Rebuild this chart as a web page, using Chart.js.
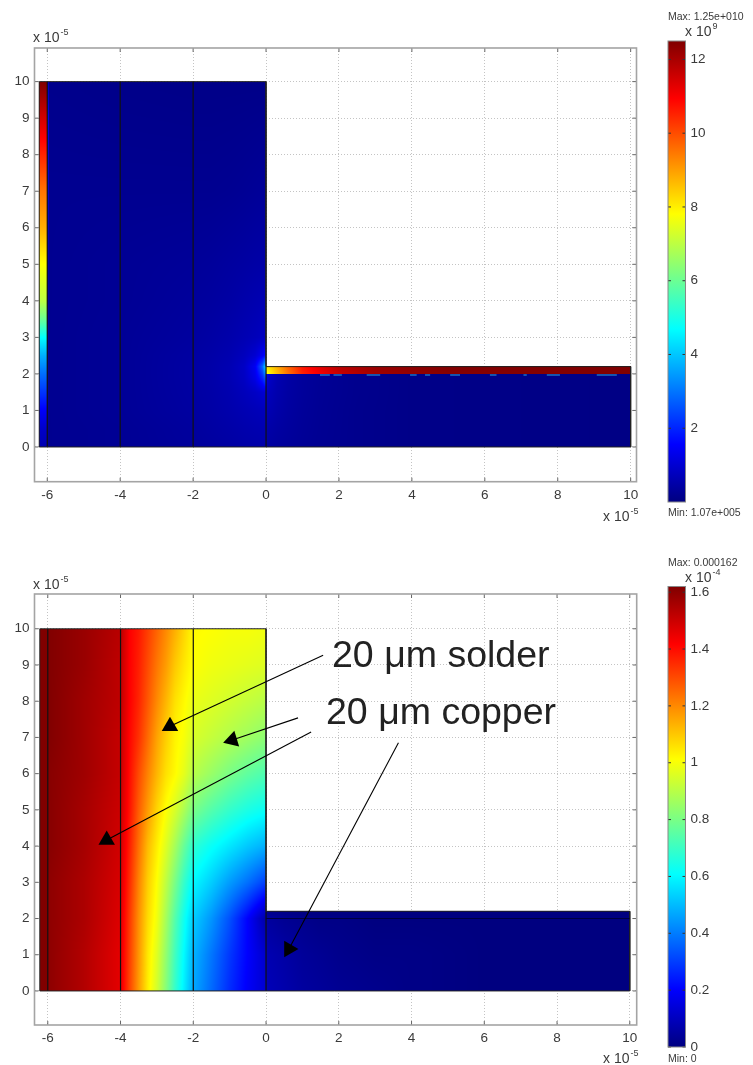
<!DOCTYPE html>
<html>
<head>
<meta charset="utf-8">
<title>solder and copper fields</title>
<script src="https://cdn.jsdelivr.net/npm/chart.js@4"></script>
<style>
  html, body { margin: 0; padding: 0; background: #fff; }
  #page { position: relative; width: 753px; height: 1065px; overflow: hidden; filter: blur(0.45px);
          font-family: "Liberation Sans", sans-serif; color: #3a3a3a; }
  #page canvas { position: absolute; }
  .lab { position: absolute; white-space: nowrap; line-height: 1; font-size: 14px; }
  .lab sup { font-size: 9px; line-height: 0; position: relative; top: -1px; vertical-align: super; margin-left: 1px; }
  .small { font-size: 10.5px; }
  .note { font-size: 37.5px; color: #222; }
</style>
</head>
<body>
<div id="page">
  <canvas id="topPlot" style="left:0;top:0"></canvas>
  <canvas id="topBar" style="left:660px;top:0"></canvas>
  <canvas id="lowPlot" style="left:0;top:540px"></canvas>
  <canvas id="lowBar" style="left:660px;top:540px"></canvas>

  <span class="lab" style="left:33px;top:30px">x 10<sup>-5</sup></span>
  <span class="lab" style="left:603px;top:509px">x 10<sup>-5</sup></span>
  <span class="lab small" style="left:668px;top:11px">Max: 1.25e+010</span>
  <span class="lab" style="left:685px;top:24px">x 10<sup>9</sup></span>
  <span class="lab small" style="left:668px;top:507px">Min: 1.07e+005</span>

  <span class="lab" style="left:33px;top:577px">x 10<sup>-5</sup></span>
  <span class="lab" style="left:603px;top:1051px">x 10<sup>-5</sup></span>
  <span class="lab small" style="left:668px;top:557px">Max: 0.000162</span>
  <span class="lab" style="left:685px;top:570px">x 10<sup>-4</sup></span>
  <span class="lab small" style="left:668px;top:1053px">Min: 0</span>

  <span class="lab note" style="left:332px;top:636px">20 μm solder</span>
  <span class="lab note" style="left:326px;top:693px">20 μm copper</span>
</div>

<script>
// axis ticks, units of 1e-5
const xTicks = [-6, -4, -2, 0, 2, 4, 6, 8, 10];
const yTicks = [0, 1, 2, 3, 4, 5, 6, 7, 8, 9, 10];
const topBarTicks = [2, 4, 6, 8, 10, 12];
const lowBarTicks = [0, 0.2, 0.4, 0.6, 0.8, 1, 1.2, 1.4, 1.6];
const topBarMax = 12.5;   // x 1e9
const lowBarMax = 1.62;   // x 1e-4

// geometry lines
const outlineX = [-6.22, -6.22, 0, 0, 10, 10, -6.22];
const outlineY = [0, 10, 10, 2.2, 2.2, 0, 0];
const dividerX = [-6, -4, -2, 0];
const dividerTop = [10, 10, 10, 2.2];

// upper plot, field values x 1e9, rows go from low y to high y
const topBlockX = [-6, -4, -2, -1.5, -1, -0.6, -0.3, -0.1, 0];
const topBlockY = [0, 0.5, 1, 1.5, 1.9, 2.2, 2.5, 3, 4, 5, 7, 10];
const topBlockV = [
  [0.2, 0.25, 0.34, 0.38, 0.43, 0.48, 0.5, 0.52, 0.52],
  [0.2, 0.25, 0.36, 0.42, 0.48, 0.54, 0.58, 0.6, 0.62],
  [0.2, 0.27, 0.4, 0.46, 0.54, 0.62, 0.68, 0.72, 0.74],
  [0.2, 0.27, 0.42, 0.48, 0.58, 0.72, 0.85, 0.98, 1.05],
  [0.2, 0.27, 0.43, 0.5, 0.62, 0.82, 1.25, 2, 2.8],
  [0.2, 0.27, 0.43, 0.5, 0.62, 0.85, 1.4, 2.8, 4.5],
  [0.2, 0.27, 0.42, 0.48, 0.58, 0.75, 1, 1.4, 1.8],
  [0.2, 0.27, 0.38, 0.44, 0.52, 0.62, 0.7, 0.78, 0.82],
  [0.2, 0.25, 0.34, 0.38, 0.44, 0.52, 0.58, 0.62, 0.62],
  [0.2, 0.25, 0.3, 0.33, 0.38, 0.42, 0.46, 0.48, 0.48],
  [0.2, 0.2, 0.2, 0.2, 0.22, 0.25, 0.28, 0.3, 0.3],
  [0.15, 0.12, 0.1, 0.1, 0.1, 0.1, 0.1, 0.1, 0.1]
];

const topWallX = [-6.22, -6.02, -6, -5.94];
const topWallY = [0, 0.5, 1, 1.5, 2, 2.5, 3, 3.5, 4, 5, 6, 7, 8, 8.5, 9, 9.5, 10];
const topWallV = [
  [0.6, 0.6, 0.3, 0.2],
  [0.9, 0.9, 0.3, 0.2],
  [1.5, 1.5, 0.3, 0.2],
  [2.2, 2.2, 0.4, 0.2],
  [2.9, 2.9, 0.4, 0.2],
  [3.7, 3.7, 0.5, 0.2],
  [4.7, 4.7, 0.5, 0.2],
  [6, 6, 0.6, 0.2],
  [7, 7, 0.6, 0.2],
  [7.8, 7.8, 0.8, 0.2],
  [8.8, 8.8, 1.4, 0.2],
  [9.5, 9.5, 2, 0.2],
  [10.5, 10.5, 2.2, 0.2],
  [11, 11, 2.5, 0.2],
  [11.5, 11.5, 2.8, 0.2],
  [12, 12, 2, 0.2],
  [12.5, 12.5, 1.5, 0.2]
];

const topCopperX = [0, 0.1, 0.3, 0.6, 1, 1.5, 2.5, 4, 10];
const topCopperY = [0, 0.5, 1, 1.5, 2];
const topCopperV = [
  [0.42, 0.4, 0.36, 0.32, 0.27, 0.22, 0.16, 0.1, 0.06],
  [0.5, 0.48, 0.42, 0.36, 0.29, 0.23, 0.16, 0.1, 0.06],
  [0.65, 0.6, 0.5, 0.4, 0.31, 0.24, 0.16, 0.1, 0.06],
  [0.8, 0.7, 0.56, 0.43, 0.33, 0.25, 0.17, 0.1, 0.06],
  [1.3, 0.9, 0.62, 0.46, 0.34, 0.26, 0.17, 0.1, 0.06]
];

const topSolderX = [0, 0.3, 0.6, 1, 1.5, 2, 3, 5, 10];
const topSolderY = [2, 2.22];
const topSolderV = [
  [7.6, 8.6, 9.5, 10.5, 11.1, 11.6, 12.1, 12.4, 12.5],
  [8, 8.8, 9.7, 10.7, 11.3, 11.8, 12.2, 12.5, 12.5]
];

// cyan flecks under the solder strip, start and end of each one
const fleckStart = [1.48, 1.85, 2.76, 3.95, 4.36, 5.05, 6.14, 7.06, 7.7, 9.07];
const fleckEnd = [1.75, 2.08, 3.13, 4.13, 4.5, 5.32, 6.32, 7.15, 8.06, 9.62];
const fleckY = 1.97;

// lower plot, field values x 1e-4
const lowBlockX = [-6, -5, -4, -3.75, -3.5, -3.25, -3, -2.75, -2.5, -2.25, -2, -1.5, -1, -0.5, 0];
const lowBlockY = [0, 1, 2, 3, 4, 5, 6, 7, 8, 9, 10];
const lowBlockV = [
  [1.6, 1.54, 1.46, 1.31, 1.17, 1.04, 0.94, 0.82, 0.69, 0.58, 0.47, 0.37, 0.27, 0.19, 0.13],
  [1.6, 1.54, 1.46, 1.32, 1.18, 1.05, 0.96, 0.84, 0.71, 0.6, 0.49, 0.39, 0.29, 0.2, 0.12],
  [1.6, 1.55, 1.47, 1.33, 1.19, 1.07, 0.99, 0.87, 0.74, 0.63, 0.53, 0.44, 0.33, 0.2, 0.06],
  [1.6, 1.55, 1.48, 1.35, 1.21, 1.09, 1.01, 0.91, 0.8, 0.69, 0.6, 0.53, 0.45, 0.38, 0.3],
  [1.61, 1.56, 1.49, 1.37, 1.24, 1.12, 1.04, 0.96, 0.87, 0.77, 0.68, 0.62, 0.57, 0.52, 0.48],
  [1.61, 1.56, 1.5, 1.39, 1.27, 1.17, 1.08, 1.01, 0.95, 0.88, 0.8, 0.74, 0.69, 0.65, 0.62],
  [1.61, 1.57, 1.51, 1.4, 1.3, 1.21, 1.13, 1.06, 1.02, 0.97, 0.9, 0.85, 0.8, 0.76, 0.73],
  [1.62, 1.57, 1.51, 1.41, 1.34, 1.25, 1.16, 1.09, 1.03, 1, 0.95, 0.92, 0.89, 0.86, 0.83],
  [1.62, 1.57, 1.52, 1.42, 1.36, 1.28, 1.2, 1.13, 1.06, 1.02, 0.98, 0.96, 0.94, 0.92, 0.9],
  [1.62, 1.58, 1.52, 1.42, 1.37, 1.3, 1.23, 1.17, 1.1, 1.05, 1.01, 0.99, 0.98, 0.97, 0.96],
  [1.62, 1.58, 1.53, 1.42, 1.38, 1.32, 1.26, 1.2, 1.14, 1.08, 1.02, 1.01, 1, 1, 0.99]
];

const lowWallX = [-6.22, -6];
const lowWallY = [0, 10];
const lowWallV = [
  [1.62, 1.62],
  [1.62, 1.62]
];

const lowCopperX = [0, 0.5, 1, 1.5, 2, 3, 4, 6, 10];
const lowCopperY = [0, 1, 2, 2.2];
const lowCopperV = [
  [0.09, 0.07, 0.05, 0.04, 0.03, 0.02, 0.01, 0, 0],
  [0.08, 0.06, 0.04, 0.03, 0.02, 0.01, 0.01, 0, 0],
  [0.05, 0.03, 0.02, 0.01, 0.01, 0, 0, 0, 0],
  [0.02, 0.01, 0, 0, 0, 0, 0, 0, 0]
];

// solder and copper boundary on the lower plot
const lowSeamX = [0, 10];
const lowSeamY = [2, 2];

// annotation arrows on the lower plot, tail then head
const arrowTailX = [1.57, 0.88, 1.24, 3.64];
const arrowTailY = [9.27, 7.54, 7.15, 6.85];
const arrowHeadX = [-2.64, -0.93, -4.38, 0.63];
const arrowHeadY = [7.31, 6.93, 4.17, 1.16];
const arrowTurn = [0, 13, 0, 90];

// jet colour map
const jetStops = [0, 0.125, 0.375, 0.625, 0.875, 1];
const jetRGB = [[0, 0, 128], [0, 0, 255], [0, 255, 255], [255, 255, 0], [255, 0, 0], [128, 0, 0]];

function jet(t) {
    t = Math.max(0, Math.min(1, t));
    let i = 0;
    while (i < jetStops.length - 2 && t > jetStops[i + 1]) i++;
    const f = (t - jetStops[i]) / (jetStops[i + 1] - jetStops[i]);
    return jetRGB[i].map((c, k) => c + (jetRGB[i + 1][k] - c) * f);
}

function findCell(list, v) {
    let i = 0;
    while (i < list.length - 2 && v > list[i + 1]) i++;
    return i;
}

// paints one region of the field, smooth shaded between the knots
function drawPatch(chart, patch) {
    const sx = chart.scales.x, sy = chart.scales.y;
    const xs = patch.x, ys = patch.y, vals = patch.v;
    const left = Math.round(sx.getPixelForValue(xs[0]));
    const right = Math.round(sx.getPixelForValue(xs[xs.length - 1]));
    const top = Math.round(sy.getPixelForValue(ys[ys.length - 1]));
    const bottom = Math.round(sy.getPixelForValue(ys[0]));
    const w = right - left, h = bottom - top;
    const off = document.createElement('canvas');
    off.width = w; off.height = h;
    const octx = off.getContext('2d');
    const img = octx.createImageData(w, h);
    for (let r = 0; r < h; r++) {
        const vy = sy.getValueForPixel(top + r + 0.5);
        const j = findCell(ys, vy);
        const fy = Math.max(0, Math.min(1, (vy - ys[j]) / (ys[j + 1] - ys[j])));
        for (let c = 0; c < w; c++) {
            const vx = sx.getValueForPixel(left + c + 0.5);
            const i = findCell(xs, vx);
            const fx = Math.max(0, Math.min(1, (vx - xs[i]) / (xs[i + 1] - xs[i])));
            const low = vals[j][i] + (vals[j][i + 1] - vals[j][i]) * fx;
            const high = vals[j + 1][i] + (vals[j + 1][i + 1] - vals[j + 1][i]) * fx;
            const rgb = jet((low + (high - low) * fy) / patch.max);
            const p = (r * w + c) * 4;
            img.data[p] = rgb[0]; img.data[p + 1] = rgb[1]; img.data[p + 2] = rgb[2]; img.data[p + 3] = 255;
        }
    }
    octx.putImageData(img, 0, 0);
    chart.ctx.drawImage(off, left, top);
}

function lineSet(xs, ys, color, width) {
    return {
        data: xs.map((x, i) => ({ x: x, y: ys[i] })),
        showLine: true, borderColor: color, borderWidth: width, pointRadius: 0, fill: false
    };
}

function makeField(id, size, pad, range, patches, extraSets, xHeight) {
    const canvas = document.getElementById(id);
    canvas.width = size[0]; canvas.height = size[1];
    const lines = [lineSet(outlineX, outlineY, '#222', 1)];
    dividerX.forEach((x, i) => lines.push(lineSet([x, x], [0, dividerTop[i]], '#111', 1.2)));
    return new Chart(canvas.getContext('2d'), {
        type: 'scatter',
        data: { datasets: extraSets.concat(lines) },
        options: {
            responsive: false, animation: false, events: [],
            layout: { padding: { left: 0, top: pad[0], right: pad[1], bottom: 0 } },
            plugins: { legend: { display: false }, tooltip: { enabled: false } },
            scales: {
                x: {
                    type: 'linear', min: range[0], max: range[1],
                    afterBuildTicks: s => { s.ticks = xTicks.map(v => ({ value: v })); },
                    afterFit: s => { s.height = xHeight; },
                    grid: { color: '#c4c4c4', lineWidth: 1, tickBorderDash: [1, 2], drawTicks: false },
                    border: { display: false, dash: [1, 2] },
                    ticks: { color: '#3a3a3a', padding: 5, maxRotation: 0, autoSkip: false, font: { family: 'Liberation Sans', size: 13.5 }, callback: v => String(v) }
                },
                y: {
                    type: 'linear', min: range[2], max: range[3],
                    afterBuildTicks: s => { s.ticks = yTicks.map(v => ({ value: v })); },
                    afterFit: s => { s.width = 34.5; },
                    grid: { color: '#c4c4c4', lineWidth: 1, drawTicks: false },
                    border: { display: false, dash: [1, 2] },
                    ticks: { color: '#3a3a3a', padding: 5, autoSkip: false, font: { family: 'Liberation Sans', size: 13.5 }, callback: v => String(v) }
                }
            }
        },
        plugins: [{
            id: 'field',
            beforeDatasetsDraw(chart) {
                patches.forEach(p => drawPatch(chart, p));
            },
            afterDraw(chart) {
                const a = chart.chartArea, ctx = chart.ctx;
                ctx.save();
                ctx.strokeStyle = '#666';
                ctx.lineWidth = 1;
                ctx.beginPath();
                xTicks.forEach(v => {
                    const x = chart.scales.x.getPixelForValue(v);
                    ctx.moveTo(x, a.top); ctx.lineTo(x, a.top + 4);
                    ctx.moveTo(x, a.bottom); ctx.lineTo(x, a.bottom - 4);
                });
                yTicks.forEach(v => {
                    const y = chart.scales.y.getPixelForValue(v);
                    ctx.moveTo(a.left, y); ctx.lineTo(a.left + 4, y);
                    ctx.moveTo(a.right, y); ctx.lineTo(a.right - 4, y);
                });
                ctx.stroke();
                ctx.strokeStyle = '#a4a4a4';
                ctx.lineWidth = 1.6;
                ctx.strokeRect(a.left, a.top, a.right - a.left, a.bottom - a.top);
                ctx.restore();
            }
        }]
    });
}

function makeBar(id, height, padTop, padBottom, barMax, barTicks) {
    const canvas = document.getElementById(id);
    canvas.width = 93; canvas.height = height;
    return new Chart(canvas.getContext('2d'), {
        type: 'bar',
        data: {
            labels: [''],
            datasets: [{
                data: [barMax], barPercentage: 1, categoryPercentage: 1,
                backgroundColor: ctx => {
                    const c = ctx.chart;
                    if (!c.chartArea) return '#000080';
                    const g = c.ctx.createLinearGradient(0, c.chartArea.bottom, 0, c.chartArea.top);
                    jetStops.forEach((s, i) => g.addColorStop(s, 'rgb(' + jetRGB[i].join(',') + ')'));
                    return g;
                }
            }]
        },
        options: {
            responsive: false, animation: false, events: [],
            layout: { padding: { left: 8, top: padTop, right: 0, bottom: padBottom } },
            plugins: { legend: { display: false }, tooltip: { enabled: false } },
            scales: {
                x: { display: false },
                y: {
                    position: 'right', min: 0, max: barMax,
                    afterBuildTicks: s => { s.ticks = barTicks.map(v => ({ value: v })); },
                    afterFit: s => { s.width = 67.5; },
                    grid: { display: false, drawTicks: false },
                    border: { display: false },
                    ticks: { color: '#3a3a3a', padding: 5, autoSkip: false, font: { family: 'Liberation Sans', size: 13.5 }, callback: v => String(v) }
                }
            }
        },
        plugins: [{
            id: 'barTicks',
            afterDraw(chart) {
                const a = chart.chartArea, ctx = chart.ctx;
                ctx.save();
                ctx.strokeStyle = '#333';
                ctx.lineWidth = 1;
                ctx.beginPath();
                barTicks.forEach(v => {
                    const y = chart.scales.y.getPixelForValue(v);
                    ctx.moveTo(a.left, y); ctx.lineTo(a.left + 3, y);
                    ctx.moveTo(a.right, y); ctx.lineTo(a.right - 3, y);
                });
                ctx.stroke();
                ctx.strokeStyle = '#888';
                ctx.strokeRect(a.left, a.top, a.right - a.left, a.bottom - a.top);
                ctx.restore();
            }
        }]
    });
}

// cyan flecks as one broken line
const fleckPoints = [];
fleckStart.forEach((x, i) => {
    fleckPoints.push({ x: x, y: fleckY }, { x: fleckEnd[i], y: fleckY }, { x: null, y: null });
});
const fleckSet = { data: fleckPoints, showLine: true, borderColor: '#2aa6d8', borderWidth: 1.2, pointRadius: 0, spanGaps: false };

const arrowSets = arrowHeadX.map((hx, i) => ({
    data: [{ x: arrowTailX[i], y: arrowTailY[i] }, { x: hx, y: arrowHeadY[i] }],
    showLine: true, borderColor: '#000', borderWidth: 1.1,
    pointStyle: 'triangle', pointRadius: [0, 9.5], pointRotation: arrowTurn[i],
    pointBackgroundColor: '#000', pointBorderColor: '#000', pointBorderWidth: 0
}));

makeField('topPlot', [660, 530], [48, 23.5], [-6.35, 10.16, -0.95, 10.92], [
    { x: topBlockX, y: topBlockY, v: topBlockV, max: topBarMax },
    { x: topCopperX, y: topCopperY, v: topCopperV, max: topBarMax },
    { x: topSolderX, y: topSolderY, v: topSolderV, max: topBarMax },
    { x: topWallX, y: topWallY, v: topWallV, max: topBarMax }
], [fleckSet], 48.3);

makeField('lowPlot', [660, 525], [54, 23.3], [-6.365, 10.19, -0.94, 10.96], [
    { x: lowBlockX, y: lowBlockY, v: lowBlockV, max: lowBarMax },
    { x: lowCopperX, y: lowCopperY, v: lowCopperV, max: lowBarMax },
    { x: lowWallX, y: lowWallY, v: lowWallV, max: lowBarMax }
], arrowSets.concat([lineSet(lowSeamX, lowSeamY, '#000040', 1)]), 40);

makeBar('topBar', 530, 41, 28, topBarMax, topBarTicks);
makeBar('lowBar', 525, 46.5, 18, lowBarMax, lowBarTicks);
</script>
</body>
</html>
